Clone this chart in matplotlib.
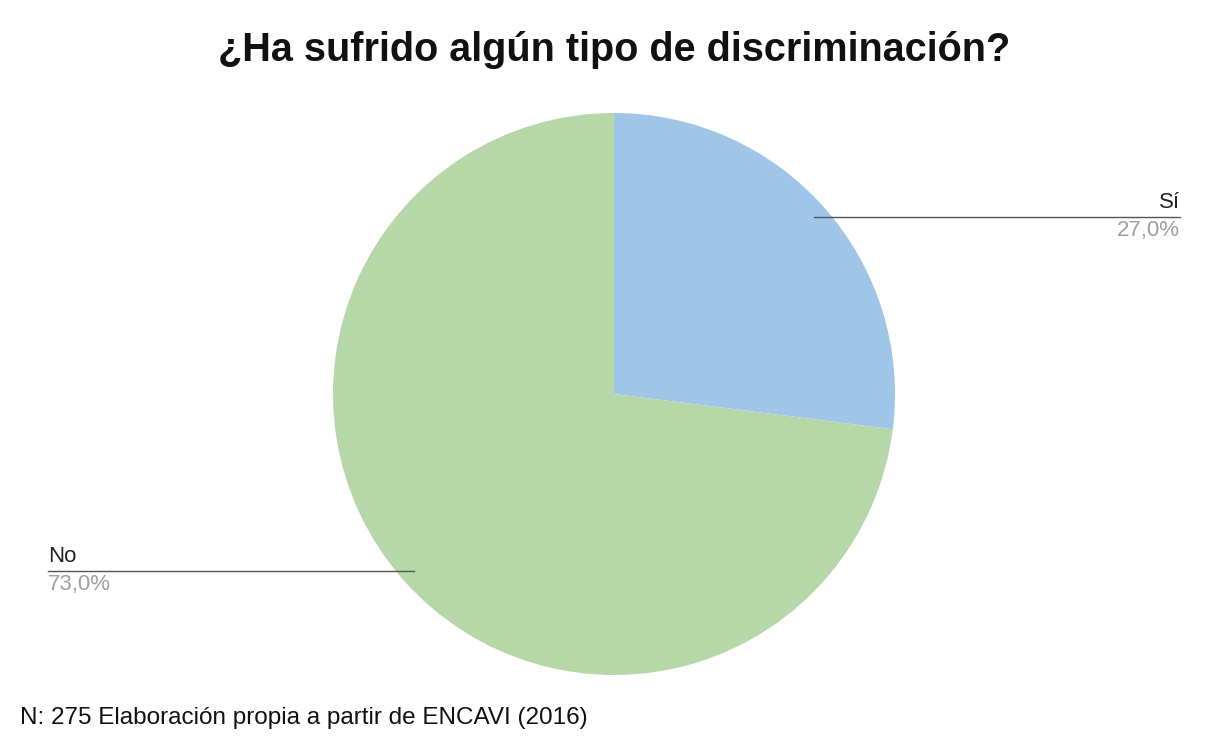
import numpy as np
import matplotlib.pyplot as plt

# -------- DATA --------
TITLE = "¿Ha sufrido algún tipo de discriminación?"
NOTE = "N: 275 Elaboración propia a partir de ENCAVI (2016)"
labels = ["Sí", "No"]
values = [27.0, 73.0]
colors = ["#9fc5e8", "#b6d7a8"]
# ----------------------

W, H = 1207, 738
plt.rcParams['font.family'] = ['Liberation Sans', 'DejaVu Sans']

fig = plt.figure(figsize=(W / 100, H / 100), dpi=100)
ax = fig.add_axes([0, 0, 1, 1])

cx, cy, r = 614, H - 394, 281
wedges, _ = ax.pie(values, colors=colors, startangle=90, counterclock=False,
                   center=(cx, cy), radius=r, frame=True,
                   wedgeprops=dict(linewidth=0))
ax.set_xlim(0, W)
ax.set_ylim(0, H)
ax.set_aspect("equal")
ax.axis("off")

# leader lines + labels
for w, lab, v in zip(wedges, labels, values):
    mid = np.deg2rad((w.theta1 + w.theta2) / 2)
    x0 = cx + 0.95 * r * np.cos(mid)
    y0 = cy + 0.95 * r * np.sin(mid)
    right = np.cos(mid) > 0
    x1 = 1180 if right else 48
    ax.plot([x0, x1], [y0, y0], color="#555555", lw=1)
    ha = "right" if right else "left"
    ax.text(x1, y0 + 4, lab, ha=ha, va="bottom", fontsize=16, color="#222222")
    ax.text(x1, y0 - 3, f"{v:.1f}%".replace(".", ","), ha=ha, va="top",
            fontsize=16, color="#a0a0a0")

fig.text(614 / W, 1 - 50 / H, TITLE, ha="center", va="center",
         fontsize=28.5, fontweight="bold", color="#111111")
fig.text(20 / W, 1 - 718 / H, NOTE, ha="left", va="center",
         fontsize=17.5, color="#111111")

fig.savefig("out.png", dpi=100)
